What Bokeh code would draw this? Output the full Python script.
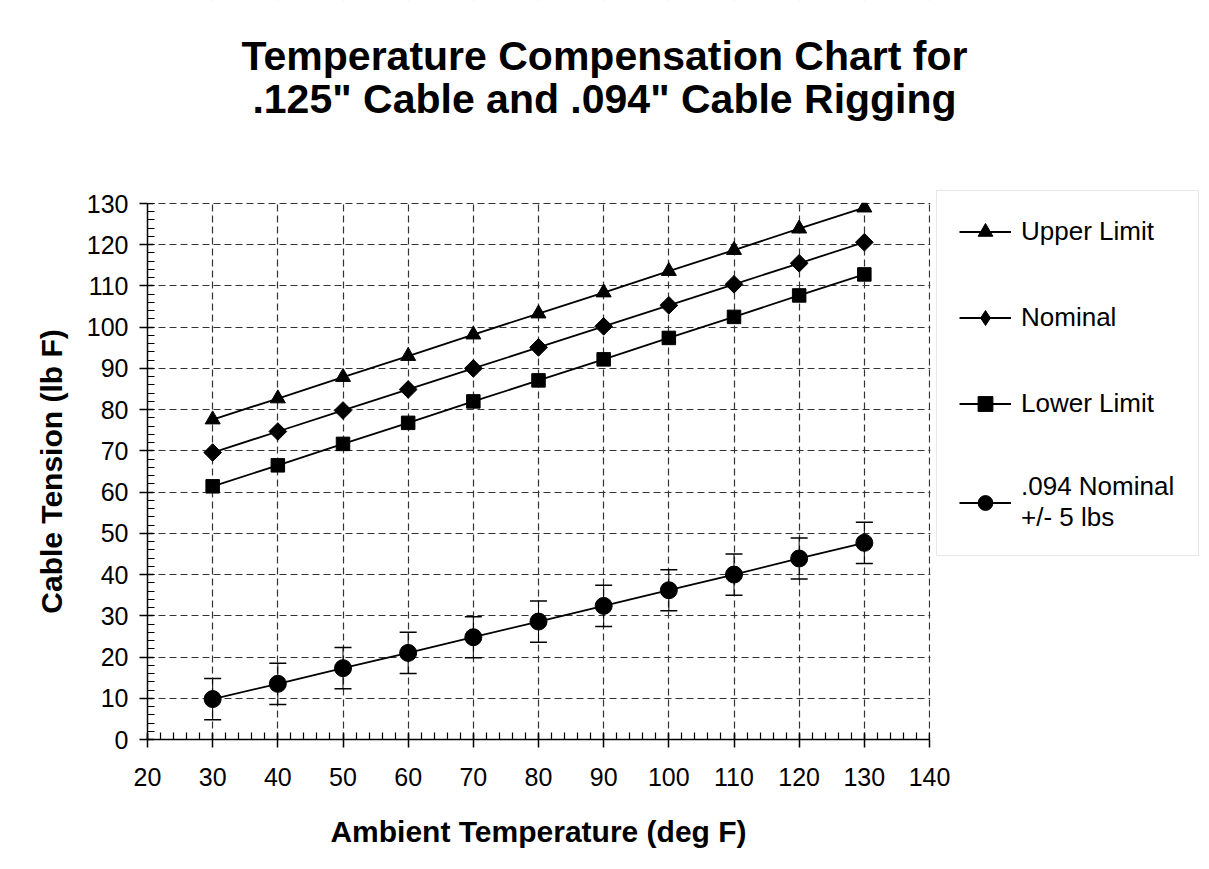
from bokeh.plotting import figure
from bokeh.models import (Range1d, FixedTicker, Legend, LegendItem, Label, BoxAnnotation,
                          Whisker, ColumnDataSource, TeeHead, LinearAxis)
from bokeh.embed import file_html
from bokeh.resources import INLINE
import math

# ---- data ----
temps = [30, 40, 50, 60, 70, 80, 90, 100, 110, 120, 130]
upper_limit = [77.6, 82.7, 87.9, 93.0, 98.2, 103.3, 108.4, 113.6, 118.7, 123.9, 129.0]
nominal = [69.6, 74.7, 79.8, 84.9, 90.0, 95.1, 100.2, 105.3, 110.4, 115.5, 120.6]
lower_limit = [61.4, 66.5, 71.7, 76.8, 82.0, 87.1, 92.2, 97.4, 102.5, 107.7, 112.8]
nominal_094 = [9.8, 13.5, 17.3, 21.0, 24.8, 28.6, 32.4, 36.2, 40.0, 43.9, 47.7]
tolerance_094 = 5

x_min, x_max = 20, 140
y_min, y_max = 0, 130
x_ticks = list(range(20, 141, 10))
x_minor = list(range(20, 141, 2))
y_ticks = list(range(0, 131, 10))
y_minor = list(range(0, 131, 2))

series_names = ["Upper Limit", "Nominal", "Lower Limit", ".094 Nominal\n+/- 5 lbs"]
title_lines = ["Temperature Compensation Chart for", ".125\" Cable and .094\" Cable Rigging"]
x_label = "Ambient Temperature (deg F)"
y_label = "Cable Tension (lb F)"

FONT = "Liberation Sans"

# ---- layout (pixels) ----
W, H = 1201, 861
AX_LEFT, AX_RIGHT, AX_TOP, AX_BOTTOM = 147, 929, 203, 739   # axes box on the canvas
FRAME_RIGHT, FRAME_TOP = 1201, 0                               # drawing frame also holds title/legend
x_end = x_min + (x_max - x_min) * (FRAME_RIGHT - AX_LEFT) / (AX_RIGHT - AX_LEFT)
y_end = y_min + (y_max - y_min) * (AX_BOTTOM - FRAME_TOP) / (AX_BOTTOM - AX_TOP)

p = figure(width=W, height=H, x_range=Range1d(x_min, x_end), y_range=Range1d(y_min, y_end),
           output_backend="svg", toolbar_location=None,
           min_border_left=AX_LEFT, min_border_right=W - FRAME_RIGHT,
           min_border_top=FRAME_TOP, min_border_bottom=H - AX_BOTTOM)
p.outline_line_color = None
p.background_fill_color = "white"
p.border_fill_color = "white"

# main axes
p.xaxis.ticker = FixedTicker(ticks=x_ticks, minor_ticks=x_minor)
p.yaxis.ticker = FixedTicker(ticks=y_ticks, minor_ticks=y_minor)
p.xaxis.bounds = (x_min, x_max)
p.yaxis.bounds = (y_min, y_max)
for ax in (p.xaxis, p.yaxis):
    ax.axis_line_color = "black"
    ax.axis_line_width = 1.5
    ax.major_tick_line_color = "black"
    ax.major_tick_line_width = 1.5
    ax.minor_tick_line_color = "black"
    ax.minor_tick_line_width = 1.2
    ax.major_tick_in = 6
    ax.major_tick_out = 8
    ax.minor_tick_in = 7
    ax.minor_tick_out = 0
    ax.major_label_text_font = FONT
    ax.major_label_text_font_size = "25px"
    ax.major_label_text_color = "black"
p.xaxis.major_label_standoff = 20
p.yaxis.major_label_standoff = 11

# axis titles, centred on the axes box (a single-tick axis at the box middle)
x_mid = (x_min + x_max) / 2
y_mid = (y_min + y_max) / 2
xt = LinearAxis(ticker=FixedTicker(ticks=[x_mid]), major_label_overrides={x_mid: x_label})
yt = LinearAxis(ticker=FixedTicker(ticks=[y_mid]), major_label_overrides={y_mid: y_label},
                major_label_orientation="vertical")
for ax in (xt, yt):
    ax.axis_line_color = None
    ax.major_tick_line_color = None
    ax.minor_tick_line_color = None
    ax.major_tick_in = 0
    ax.major_tick_out = 0
    ax.minor_tick_in = 0
    ax.minor_tick_out = 0
    ax.major_label_text_font = FONT
    ax.major_label_text_font_size = "30px"
    ax.major_label_text_font_style = "bold"
    ax.major_label_text_color = "black"
xt.major_label_standoff = 26
yt.major_label_standoff = 16
p.add_layout(xt, "below")
p.add_layout(yt, "left")

# grid
for g in (p.xgrid, p.ygrid):
    g.grid_line_color = "#333333"
    g.grid_line_width = 1.2
    g.grid_line_dash = "7 4"
p.xgrid.ticker = FixedTicker(ticks=x_ticks)
p.ygrid.ticker = FixedTicker(ticks=y_ticks)

# keep the grid inside the axes box
p.add_layout(BoxAnnotation(left=x_max + 0.12, right=x_end + 20, bottom=y_min - 20, top=y_end + 20,
                           fill_color="white", fill_alpha=1.0, line_color=None))
p.add_layout(BoxAnnotation(left=x_min - 20, right=x_end + 20, bottom=y_max + 0.18, top=y_end + 20,
                           fill_color="white", fill_alpha=1.0, line_color=None))
p.add_layout(BoxAnnotation(left=x_min - 20, right=x_end + 20, bottom=y_end - 2, top=y_end + 20,
                           fill_color="white", fill_alpha=1.0, line_color="white", line_width=4))

# error bars for .094 series
src094 = ColumnDataSource(dict(
    x=temps, y=nominal_094,
    lo=[v - tolerance_094 for v in nominal_094],
    hi=[v + tolerance_094 for v in nominal_094]))
wh = Whisker(source=src094, base="x", lower="lo", upper="hi", line_color="black", line_width=1,
             upper_head=TeeHead(size=17, line_color="black", line_width=1.5),
             lower_head=TeeHead(size=17, line_color="black", line_width=1.5))
p.add_layout(wh)

items = []
ln = p.line(temps, upper_limit, line_color="black", line_width=1.8)
sc = p.scatter(temps, upper_limit, marker="triangle", size=15, fill_color="black", line_color="black")
items.append(LegendItem(label=series_names[0], renderers=[ln, sc]))

ln = p.line(temps, nominal, line_color="black", line_width=1.8)
dm = p.scatter(temps, nominal, marker="diamond", size=14, fill_color="black", line_color="black")
p.scatter(temps, nominal, marker="square", size=12.5, angle=math.pi / 4,
          fill_color="black", line_color="black")
items.append(LegendItem(label=series_names[1], renderers=[ln, dm]))

ln = p.line(temps, lower_limit, line_color="black", line_width=1.8)
sc = p.scatter(temps, lower_limit, marker="square", size=13.5, fill_color="black", line_color="black")
items.append(LegendItem(label=series_names[2], renderers=[ln, sc]))

ln = p.line(temps, nominal_094, line_color="black", line_width=1.8)
sc = p.scatter(temps, nominal_094, marker="circle", size=17, fill_color="black", line_color="black")
items.append(LegendItem(label=series_names[3], renderers=[ln, sc]))

legend = Legend(items=items, location=(936 - AX_LEFT, 183), margin=0, padding=22, spacing=49,
                glyph_width=52, glyph_height=37, label_standoff=10, label_width=155,
                label_text_font=FONT, label_text_font_size="26px", label_text_color="black",
                label_text_line_height=1.45,
                border_line_color="#cfcfcf", border_line_width=1.2,
                background_fill_color="white", background_fill_alpha=1.0)
p.add_layout(legend)

# title: two centred lines (screen units from the frame's bottom-left)
for txt, baseline in zip(title_lines, [55, 98]):
    p.add_layout(Label(x=604 - AX_LEFT, y=AX_BOTTOM - baseline, x_units="screen", y_units="screen",
                       text=txt, text_align="center", text_baseline="alphabetic",
                       text_font=FONT, text_font_size="41px", text_font_style="bold",
                       text_color="black"))

open("out.html", "w").write(file_html(p, INLINE))
